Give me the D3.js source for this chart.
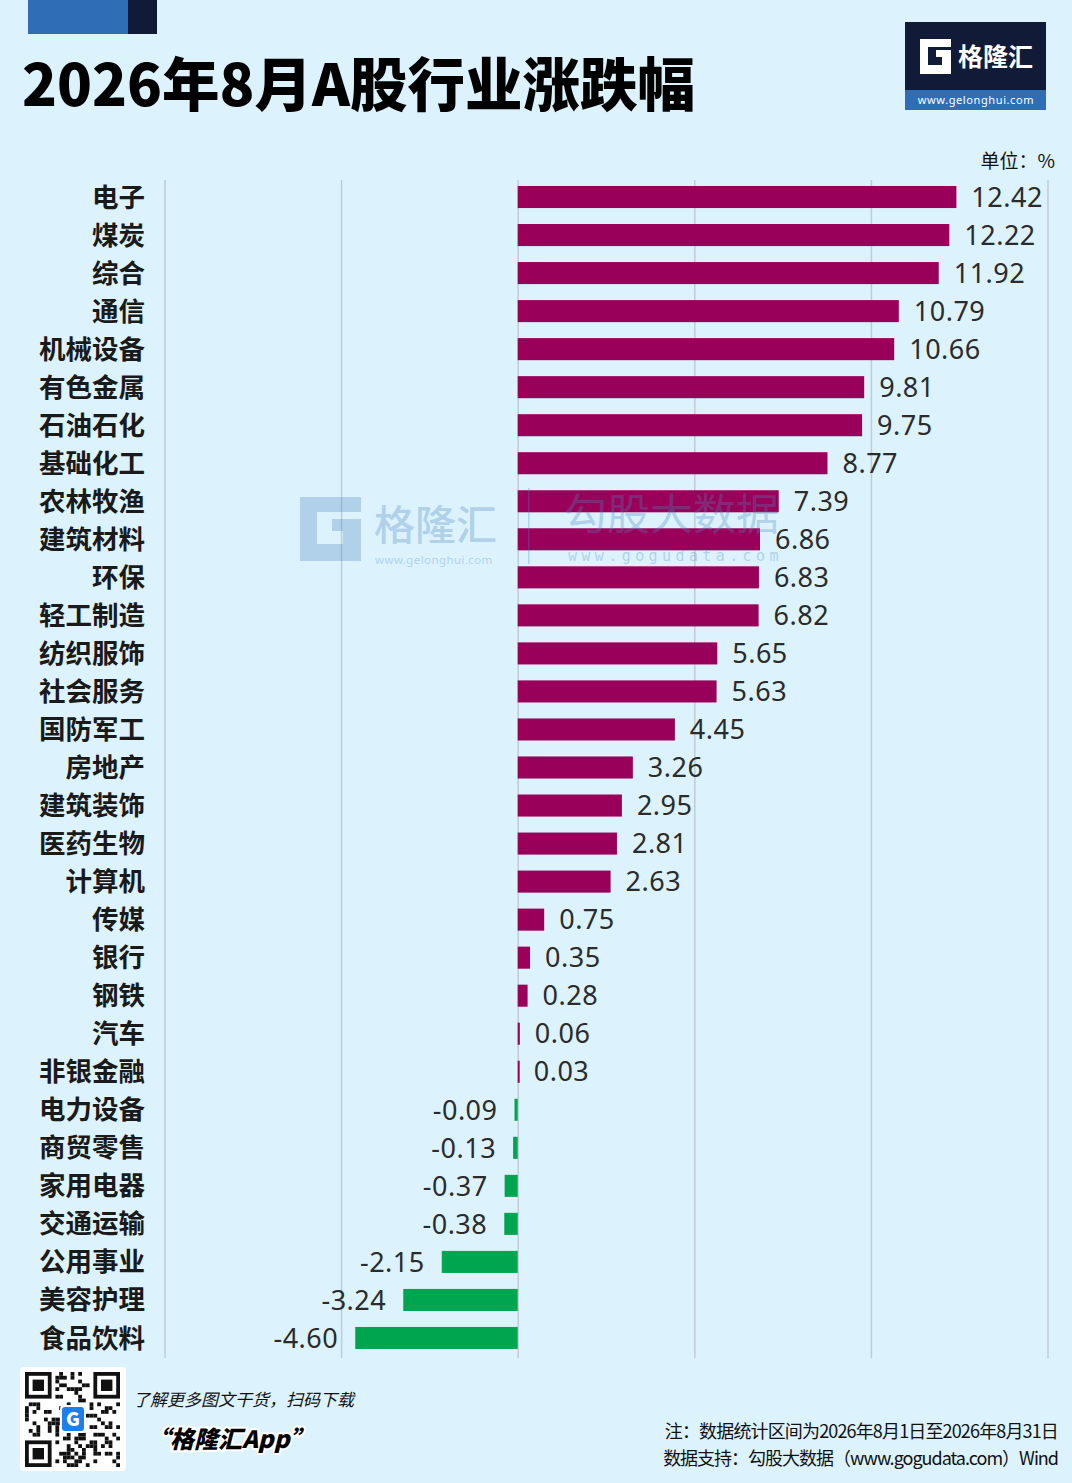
<!DOCTYPE html>
<html>
<head>
<meta charset="utf-8">
<script src="https://cdn.jsdelivr.net/npm/d3@7/dist/d3.min.js"></script>
<style>
  html, body { margin: 0; padding: 0; background: #dcf3fe; }
  svg { display: block; font-family: "Noto Sans CJK SC", "Noto Sans", sans-serif; }
</style>
</head>
<body>
<svg id="chart" width="1072" height="1483"></svg>
<script>
// ── data ─────────────────────────────────────────
const categories = ['电子', '煤炭', '综合', '通信', '机械设备', '有色金属', '石油石化', '基础化工',
  '农林牧渔', '建筑材料', '环保', '轻工制造', '纺织服饰', '社会服务', '国防军工', '房地产',
  '建筑装饰', '医药生物', '计算机', '传媒', '银行', '钢铁', '汽车', '非银金融',
  '电力设备', '商贸零售', '家用电器', '交通运输', '公用事业', '美容护理', '食品饮料'];
const values = [12.42, 12.22, 11.92, 10.79, 10.66, 9.81, 9.75, 8.77,
  7.39, 6.86, 6.83, 6.82, 5.65, 5.63, 4.45, 3.26,
  2.95, 2.81, 2.63, 0.75, 0.35, 0.28, 0.06, 0.03,
  -0.09, -0.13, -0.37, -0.38, -2.15, -3.24, -4.60];
const gridTicks = [-10, -5, 0, 5, 10, 15];

const TITLE = '2026年8月A股行业涨跌幅';
const UNIT = '单位：%';
const NOTE = '注：数据统计区间为2026年8月1日至2026年8月31日';
const SOURCE = '数据支持：勾股大数据（www.gogudata.com）Wind';

const UP = '#990059';
const DOWN = '#00a64f';
const GRID = '#bfcbd6';

const svg = d3.select('#chart');
const W = 1072, H = 1483;
svg.append('rect').attr('width', W).attr('height', H).attr('fill', '#dcf3fe');

// ── header ───────────────────────────────────────
svg.append('rect').attr('x', 28).attr('y', 0).attr('width', 100).attr('height', 34).attr('fill', '#2f6eb6');
svg.append('rect').attr('x', 128).attr('y', 0).attr('width', 29).attr('height', 34).attr('fill', '#111a36');
svg.append('text')
  .attr('x', 22).attr('y', 106)
  .attr('font-size', 57.5).attr('font-weight', 900).attr('fill', '#000')
  .text(TITLE);

// logo top right
const logo = svg.append('g').attr('transform', 'translate(905,22)');
logo.append('rect').attr('width', 141).attr('height', 68).attr('fill', '#111a36');
logo.append('rect').attr('y', 68).attr('width', 141).attr('height', 20).attr('fill', '#2f6eb6');
logo.append('path')
  .attr('d', 'M15,17 h31 v8 h-23 v18 h14 v-8 h-6 v-7 h15 v24 h-31 z')
  .attr('fill', '#fff');
logo.append('text').attr('x', 53).attr('y', 44)
  .attr('font-size', 25).attr('font-weight', 700).attr('fill', '#fff').text('格隆汇');
logo.append('text').attr('x', 71).attr('y', 82).attr('text-anchor', 'middle')
  .attr('font-size', 11).attr('font-family', 'Noto Sans').attr('letter-spacing', 0.6)
  .attr('fill', '#fff').text('www.gelonghui.com');

// unit
svg.append('text').attr('x', 1055).attr('y', 168).attr('text-anchor', 'end')
  .attr('font-size', 19).attr('fill', '#111').text(UNIT);

// ── chart ────────────────────────────────────────
const gridTop = 180, gridBottom = 1358;
const x = d3.scaleLinear().domain([-10, 15]).range([164.5, 1047.5]);
const y = d3.scaleBand().domain(categories).range([178, 1357]).paddingInner(0.42).paddingOuter(0.21);

const grid = svg.append('g').attr('transform', `translate(0,${gridTop})`)
  .call(d3.axisTop(x).tickValues(gridTicks).tickFormat('').tickSize(-(gridBottom - gridTop)));
grid.select('.domain').remove();
grid.selectAll('line').attr('stroke', GRID).attr('stroke-width', 1.5);

const data = categories.map((c, i) => ({ label: c, value: values[i] }));

svg.append('g').selectAll('rect')
  .data(data).join('rect')
  .attr('x', d => Math.min(x(0), x(d.value)))
  .attr('y', d => y(d.label))
  .attr('width', d => Math.max(2, Math.abs(x(d.value) - x(0))))
  .attr('height', y.bandwidth())
  .attr('fill', d => d.value >= 0 ? UP : DOWN);

// category labels
svg.append('g').selectAll('text')
  .data(data).join('text')
  .attr('x', 145)
  .attr('y', d => y(d.label) + y.bandwidth() / 2)
  .attr('dy', '0.36em')
  .attr('text-anchor', 'end')
  .attr('font-size', 26.5).attr('font-weight', 700).attr('fill', '#1a1a1a')
  .text(d => d.label);

// value labels
svg.append('g').selectAll('text')
  .data(data).join('text')
  .attr('x', d => d.value >= 0 ? x(d.value) + 15 : x(d.value) - 17)
  .attr('y', d => y(d.label) + y.bandwidth() / 2)
  .attr('dy', '0.36em')
  .attr('text-anchor', d => d.value >= 0 ? 'start' : 'end')
  .attr('font-family', 'Noto Sans').attr('font-size', 27).attr('letter-spacing', 0.5)
  .attr('fill', '#2b2b2b')
  .text(d => d.value.toFixed(2));

// ── watermark (over the bars, faint) ─────────────
const wm = svg.append('g').attr('opacity', 0.3).attr('fill', '#4f86bd');
wm.append('path')
  .attr('d', 'M300,497 h61 v15 h-44 v32 h26 v-13 h-11 v-12 h29 v42 h-61 z');
wm.append('text').attr('x', 374).attr('y', 540).attr('font-size', 41).attr('font-weight', 500).text('格隆汇');
wm.append('text').attr('x', 375).attr('y', 564).attr('font-size', 11.5).attr('letter-spacing', 0.4)
  .attr('font-family', 'Noto Sans').text('www.gelonghui.com');
wm.append('rect').attr('x', 528).attr('y', 488).attr('width', 1.5).attr('height', 76);
wm.append('text').attr('x', 564).attr('y', 530).attr('font-size', 43).text('勾股大数据');
wm.append('text').attr('x', 568).attr('y', 561).attr('font-size', 15).attr('letter-spacing', 4.4)
  .attr('font-family', 'DejaVu Sans Mono').text('www.gogudata.com');

// ── footer ───────────────────────────────────────
const qr = svg.append('g').attr('transform', 'translate(20,1367)');
qr.append('rect').attr('width', 106).attr('height', 104).attr('rx', 4).attr('fill', '#fff');
const N = 25, cell = 3.8, ox = 5, oy = 5;
const cells = [];
for (let i = 0; i < N; i++) for (let j = 0; j < N; j++) {
  const finder = (i < 8 && j < 8) || (i < 8 && j >= N - 8) || (i >= N - 8 && j < 8);
  if (finder) continue;
  if (((i * 7 + j * 11) ^ (i * j + 3)) % 3 === 0) cells.push([i, j]);
}
qr.selectAll('rect.m').data(cells).join('rect').attr('class', 'm')
  .attr('x', d => ox + d[1] * cell).attr('y', d => oy + d[0] * cell)
  .attr('width', cell).attr('height', cell).attr('fill', '#111');
[[0, 0], [0, N - 7], [N - 7, 0]].forEach(([r, c]) => {
  qr.append('rect').attr('x', ox + c * cell).attr('y', oy + r * cell)
    .attr('width', 7 * cell).attr('height', 7 * cell).attr('fill', '#111');
  qr.append('rect').attr('x', ox + (c + 1) * cell).attr('y', oy + (r + 1) * cell)
    .attr('width', 5 * cell).attr('height', 5 * cell).attr('fill', '#fff');
  qr.append('rect').attr('x', ox + (c + 2) * cell).attr('y', oy + (r + 2) * cell)
    .attr('width', 3 * cell).attr('height', 3 * cell).attr('fill', '#111');
});
qr.append('rect').attr('x', 40).attr('y', 38).attr('width', 26).attr('height', 28).attr('rx', 4)
  .attr('fill', '#fff');
qr.append('rect').attr('x', 42).attr('y', 40).attr('width', 22).attr('height', 24).attr('rx', 3)
  .attr('fill', '#1f7ee8');
qr.append('text').attr('x', 53).attr('y', 59).attr('text-anchor', 'middle')
  .attr('font-size', 19).attr('font-weight', 900).attr('fill', '#fff').text('G');

svg.append('text').attr('x', 133).attr('y', 1406)
  .attr('font-size', 17).attr('font-style', 'italic').attr('fill', '#111')
  .text('了解更多图文干货，扫码下载');
svg.append('text').attr('x', 146).attr('y', 1448)
  .attr('font-size', 24).attr('font-weight', 900).attr('font-style', 'italic').attr('fill', '#000')
  .attr('stroke', '#fff').attr('stroke-width', 4).attr('paint-order', 'stroke')
  .text('“格隆汇App”');

svg.append('text').attr('x', 1058).attr('y', 1438).attr('text-anchor', 'end')
  .attr('font-size', 18).attr('letter-spacing', -0.85).attr('fill', '#111').text(NOTE);
svg.append('text').attr('x', 1058).attr('y', 1465).attr('text-anchor', 'end')
  .attr('font-size', 18).attr('letter-spacing', -1.0).attr('fill', '#111').text(SOURCE);
</script>
</body>
</html>
